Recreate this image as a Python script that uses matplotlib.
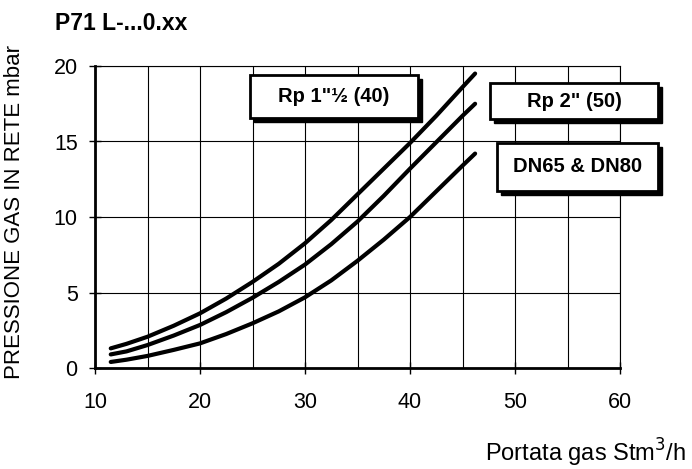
import matplotlib.pyplot as plt
from matplotlib.patches import Rectangle
from matplotlib.ticker import MultipleLocator

plt.rcParams['font.family'] = ['Liberation Sans', 'DejaVu Sans']

# portata (Stm3/h) and pressione (mbar)
q = [11.5, 13, 15, 17.5, 20, 22.5, 25, 27.5, 30, 32.5, 35, 37.5, 40, 42.5, 45, 46.2]
p_rp112 = [1.3, 1.6, 2.07, 2.8, 3.62, 4.6, 5.7, 6.9, 8.26, 9.8, 11.5, 13.2, 14.9, 16.7, 18.6, 19.5]
p_rp2 = [0.9, 1.1, 1.52, 2.15, 2.85, 3.7, 4.65, 5.7, 6.85, 8.2, 9.7, 11.4, 13.2, 14.95, 16.7, 17.5]
p_dn = [0.4, 0.55, 0.8, 1.2, 1.63, 2.25, 2.96, 3.75, 4.68, 5.8, 7.1, 8.5, 10.0, 11.7, 13.4, 14.2]

labels = ['Rp 1"\u00bd (40)', 'Rp 2" (50)', 'DN65 & DN80']

fig = plt.figure(figsize=(6.92, 4.69), dpi=100)
ax = fig.add_axes([95/692, 1 - 368/469, 525/692, 302/469])

for p in (p_rp112, p_rp2, p_dn):
    ax.plot(q, p, color='black', lw=3, solid_capstyle='round', zorder=3)

ax.set_xlim(10, 60)
ax.set_ylim(0, 20)
ax.xaxis.set_major_locator(MultipleLocator(10))
ax.xaxis.set_minor_locator(MultipleLocator(5))
ax.yaxis.set_major_locator(MultipleLocator(5))
ax.grid(True, which='both', color='black', lw=0.8)
ax.tick_params(axis='x', which='minor', length=0)
ax.tick_params(which='major', direction='inout', length=9, width=1, labelsize=15.5, pad=13)
ax.tick_params(axis='y', pad=8)
for s in ('left', 'bottom'):
    ax.spines[s].set_linewidth(2)
for s in ('top', 'right'):
    ax.spines[s].set_linewidth(0.8)

fig.text(15/692, 1 - 212/469, 'PRESSIONE GAS IN RETE mbar', rotation=90,
         ha='center', va='center', fontsize=16)
fig.text(686/692, 1 - 462/469, 'Portata gas Stm$^3$/h', ha='right', va='baseline', fontsize=17)
fig.text(55/692, 1 - 24/469, 'P71 L-...0.xx', ha='left', va='center', fontsize=16.5, fontweight='bold')

# boxed labels with shadow, in pixel coords (x0, y0 top, x1, y1 bottom)
boxes = [(250, 75, 418, 118), (490, 83, 658, 119), (497, 143, 658, 191)]
for (x0, y0, x1, y1), lab in zip(boxes, labels):
    w = (x1 - x0) / 692
    h = (y1 - y0) / 469
    fx = x0 / 692
    fy = 1 - y1 / 469
    fig.patches.append(Rectangle((fx + 4/692, fy - 4/469), w, h, transform=fig.transFigure,
                                 facecolor='black', edgecolor='black', zorder=5))
    fig.patches.append(Rectangle((fx, fy), w, h, transform=fig.transFigure,
                                 facecolor='white', edgecolor='black', lw=2, zorder=6))
    fig.text(fx + w / 2, fy + h / 2, lab, ha='center', va='center', fontsize=14.5,
             fontweight='bold', zorder=7)

fig.savefig('out.png', dpi=100)
